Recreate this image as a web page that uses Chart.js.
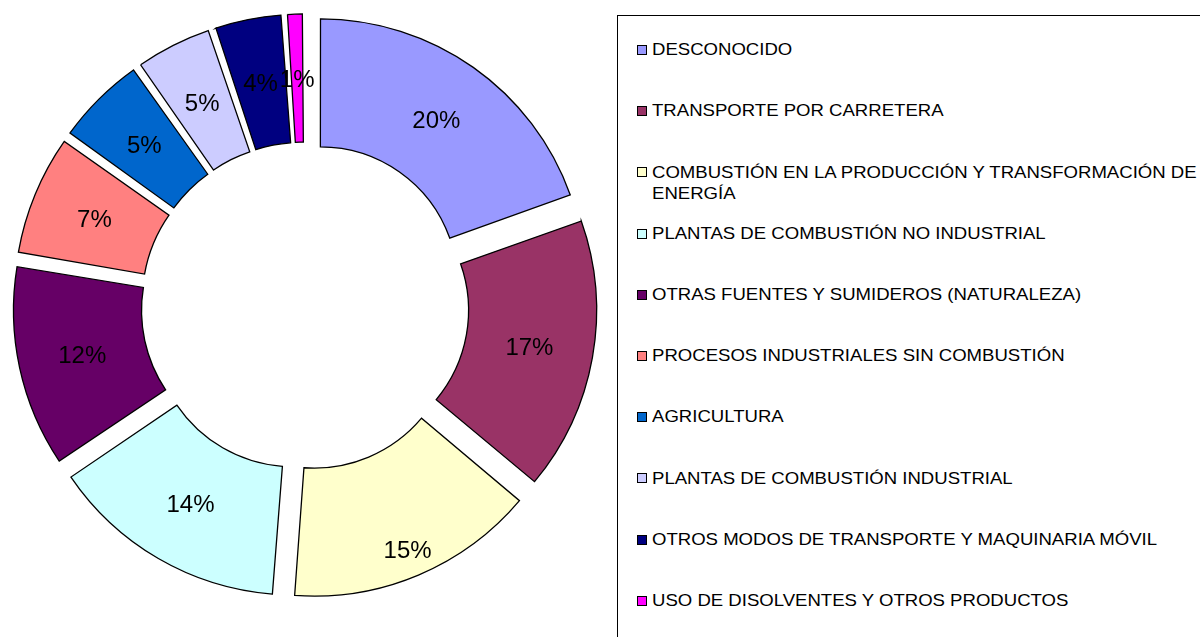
<!DOCTYPE html>
<html>
<head>
<meta charset="utf-8">
<script src="https://cdn.jsdelivr.net/npm/chart.js@4.4.1/dist/chart.umd.min.js"></script>
<style>
  html, body { margin: 0; padding: 0; background: #ffffff; }
  body { width: 1200px; height: 637px; position: relative; overflow: hidden; font-family: "Liberation Sans", Arial, sans-serif; }
  #chartBox { position: absolute; left: 0; top: 0; width: 610px; height: 612px; }
  #legendBox { position: absolute; left: 617px; top: 15px; width: 620px; height: 660px; border: 1px solid #000; box-sizing: border-box; }
  .mark { position: absolute; width: 10px; height: 10px; box-sizing: border-box; border: 1px solid #000; }
  .txt { position: absolute; font-size: 16.5px; line-height: 21.5px; color: #000; width: 496px; transform: scaleX(1.125); transform-origin: 0 0; white-space: normal; }
</style>
</head>
<body>
<div id="chartBox"><canvas id="c"></canvas></div>
<div id="legendBox"></div>
<script>
// ---- data ----
const categories = [
  "DESCONOCIDO",
  "TRANSPORTE POR CARRETERA",
  "COMBUSTIÓN EN LA PRODUCCIÓN Y TRANSFORMACIÓN DE ENERGÍA",
  "PLANTAS DE COMBUSTIÓN NO INDUSTRIAL",
  "OTRAS FUENTES Y SUMIDEROS (NATURALEZA)",
  "PROCESOS INDUSTRIALES SIN COMBUSTIÓN",
  "AGRICULTURA",
  "PLANTAS DE COMBUSTIÓN INDUSTRIAL",
  "OTROS MODOS DE TRANSPORTE Y MAQUINARIA MÓVIL",
  "USO DE DISOLVENTES Y OTROS PRODUCTOS"
];
const shares = [19.55, 16.55, 15.1, 14.35, 12.1, 7.2, 5.4, 4.6, 4.05, 1.1];
const colors = ["#9999FF", "#993366", "#FFFFCC", "#CCFFFF", "#660066", "#FF8080", "#0066CC", "#CCCCFF", "#000080", "#FF00FF"];

// ---- style constants ----
const EXPLODE = 28;       // outward shift of every slice, px
const OUTER_R = 264;
const LABEL_RADIAL_EXTRA = { 2: 36 };   // the 15% label sits near the outer edge in the original

function explodeOffset(ctx) {
  const data = ctx.dataset.data;
  const total = data.reduce((a, b) => a + b, 0);
  const circ = data[ctx.dataIndex] / total * Math.PI * 2;
  const fix = 1 - Math.sin(Math.min(Math.PI, circ));
  // Chart.js translates by offset/4 and also grows radius by offset/4*fix
  return 4 * EXPLODE / (1 + fix);
}

const pctLabels = {
  id: 'pctLabels',
  afterDatasetsDraw(chart) {
    const ctx = chart.ctx;
    const meta = chart.getDatasetMeta(0);
    const data = chart.data.datasets[0].data;
    const total = data.reduce((a, b) => a + b, 0);
    ctx.save();
    ctx.font = '24px "Liberation Sans", Arial, sans-serif';
    ctx.fillStyle = '#000';
    ctx.textAlign = 'center';
    ctx.textBaseline = 'middle';
    meta.data.forEach((arc, i) => {
      const p = arc.getProps(['x', 'y', 'startAngle', 'endAngle', 'innerRadius', 'outerRadius'], true);
      const mid = (p.startAngle + p.endAngle) / 2;
      const r = (p.innerRadius + p.outerRadius) / 2 + EXPLODE + (LABEL_RADIAL_EXTRA[i] || 0);
      const txt = Math.round(data[i] / total * 100) + '%';
      ctx.fillText(txt, p.x + Math.cos(mid) * r, p.y + Math.sin(mid) * r + 2);
    });
    ctx.restore();
  }
};

new Chart(document.getElementById('c'), {
  type: 'doughnut',
  data: {
    labels: categories,
    datasets: [{
      data: shares,
      backgroundColor: colors,
      borderColor: '#000000',
      borderWidth: 1.3,
      borderJoinStyle: 'miter',
      offset: explodeOffset,
      hoverOffset: 0
    }]
  },
  options: {
    responsive: true,
    maintainAspectRatio: false,
    animation: false,
    radius: OUTER_R,
    cutout: '51.5%',
    layout: { padding: 0 },
    plugins: { legend: { display: false }, tooltip: { enabled: false } },
    events: []
  },
  plugins: [pctLabels]
});

// ---- legend (built from the same arrays) ----
const legend = document.getElementById('legendBox');
const boxTop = 15;
const firstY = 49 - boxTop, stepY = 61.2;   // item centres relative to the box top
categories.forEach((name, i) => {
  const cy = firstY + i * stepY;
  const m = document.createElement('div');
  m.className = 'mark';
  m.style.left = '19px';
  m.style.top = (cy - 5) + 'px';
  m.style.background = colors[i];
  legend.appendChild(m);
  const t = document.createElement('div');
  t.className = 'txt';
  t.style.left = '34px';
  t.style.top = (cy - 10.75) + 'px';
  t.textContent = name;
  legend.appendChild(t);
});
</script>
</body>
</html>
